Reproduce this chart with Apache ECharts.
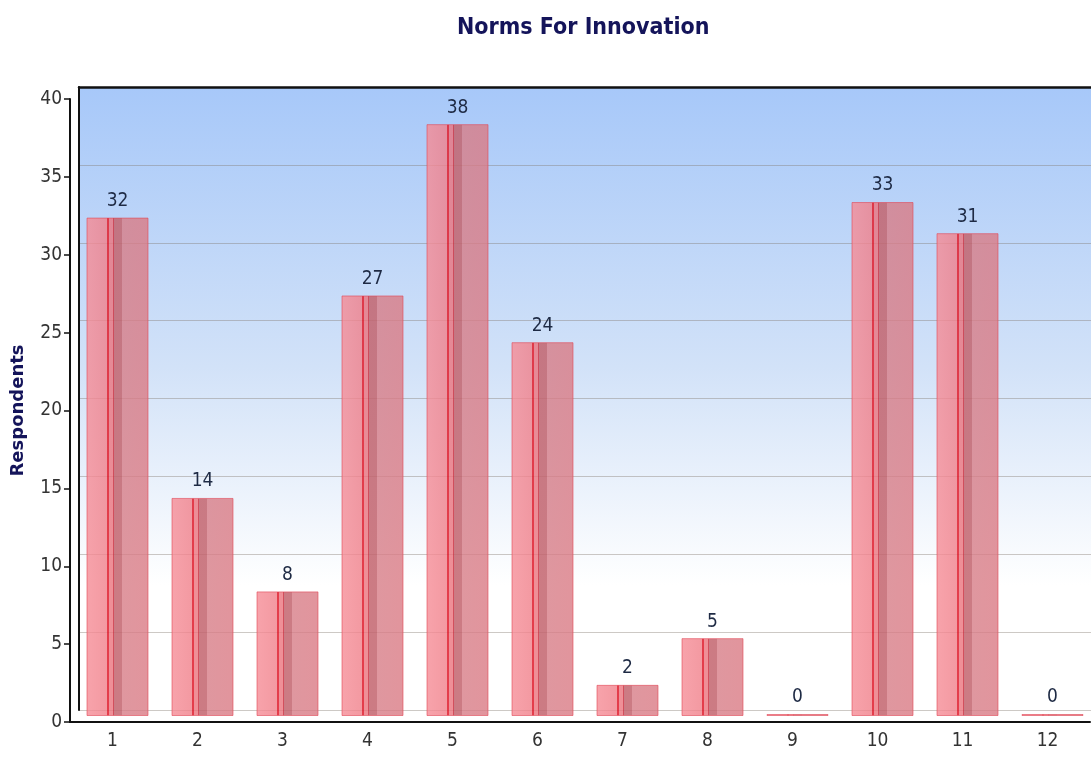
<!DOCTYPE html>
<html>
<head>
<meta charset="utf-8">
<script src="https://cdn.jsdelivr.net/npm/echarts@6/dist/echarts.min.js"></script>
<style>
  html, body { margin: 0; padding: 0; background: #fff; }
  #chart { width: 1091px; height: 758px; }
</style>
</head>
<body>
<div id="chart"></div>
<script>
// chart data
const categories = ['1', '2', '3', '4', '5', '6', '7', '8', '9', '10', '11', '12'];
const respondents = [32, 14, 8, 27, 38, 24, 2, 5, 0, 33, 31, 0];
const yTicks = { min: 0, max: 40, interval: 5 };

const font = "'DejaVu Sans Condensed', 'Liberation Sans Narrow', sans-serif";
const myChart = echarts.init(document.getElementById('chart'));

// bar fill: light left face, red edge, darker middle stripe, shaded right part
const barFill = {
  type: 'linear', x: 0, y: 0, x2: 1, y2: 0,
  colorStops: [
    { offset: 0, color: 'rgba(246,140,150,0.8)' },
    { offset: 0.33, color: 'rgba(240,128,138,0.8)' },
    { offset: 0.33, color: 'rgba(225,40,55,0.9)' },
    { offset: 0.36, color: 'rgba(225,40,55,0.9)' },
    { offset: 0.36, color: 'rgba(235,115,125,0.8)' },
    { offset: 0.42, color: 'rgba(235,115,125,0.8)' },
    { offset: 0.42, color: 'rgba(205,60,75,0.9)' },
    { offset: 0.44, color: 'rgba(205,60,75,0.9)' },
    { offset: 0.44, color: 'rgba(195,100,110,0.85)' },
    { offset: 0.58, color: 'rgba(195,100,110,0.85)' },
    { offset: 0.58, color: 'rgba(215,125,135,0.8)' },
    { offset: 1, color: 'rgba(218,122,132,0.8)' }
  ]
};

const hiddenCat = (grid) => ({
  type: 'category', gridIndex: grid, data: categories, show: false
});
const hiddenVal = (grid) => ({
  type: 'value', gridIndex: grid, min: yTicks.min, max: yTicks.max, interval: yTicks.interval, show: false,
  splitLine: { show: false }
});

const option = {
  backgroundColor: '#fff',
  animation: false,
  title: {
    text: 'Norms For Innovation',
    left: 452,
    top: 12,
    textStyle: { fontFamily: font, fontSize: 23, fontWeight: 'bold', color: '#14145a' }
  },
  grid: [
    // front plane: axes, ticks and labels
    { left: 70, right: 1, top: 99, bottom: 36, outerBoundsMode: 'none' },
    // back wall with the gradient and grid lines
    {
      left: 79, right: -8, top: 87, bottom: 48, show: true, borderWidth: 0, outerBoundsMode: 'none',
      backgroundColor: {
        type: 'linear', x: 0, y: 0, x2: 0, y2: 1,
        colorStops: [
          { offset: 0, color: '#a7c8f9' },
          { offset: 0.45, color: '#d2e2f8' },
          { offset: 0.8, color: '#ffffff' },
          { offset: 1, color: '#ffffff' }
        ]
      }
    },
    // middle plane for the bars
    { left: 75, right: -4, top: 93, bottom: 42, outerBoundsMode: 'none' }
  ],
  xAxis: [
    {
      type: 'category', gridIndex: 0, data: categories, z: 10,
      axisLine: { lineStyle: { color: '#111', width: 2 } },
      axisTick: { alignWithLabel: true, length: 7, lineStyle: { color: '#111', width: 2 } },
      axisLabel: { fontFamily: font, fontSize: 19, color: '#333', margin: 10 }
    },
    {
      type: 'category', gridIndex: 1, data: categories, position: 'top',
      axisLine: { onZero: false, lineStyle: { color: '#111', width: 2.5 } },
      axisTick: { show: false }, axisLabel: { show: false }
    },
    hiddenCat(2)
  ],
  yAxis: [
    {
      type: 'value', gridIndex: 0, min: yTicks.min, max: yTicks.max, interval: yTicks.interval, z: 10,
      name: 'Respondents', nameLocation: 'middle', nameGap: 43,
      nameTextStyle: { fontFamily: 'DejaVu Sans', fontSize: 18, fontWeight: 'bold', color: '#14145a' },
      axisLine: { show: true, lineStyle: { color: '#111', width: 2 } },
      axisTick: { show: true, length: 6, lineStyle: { color: '#111', width: 1.5 } },
      axisLabel: { fontFamily: font, fontSize: 19, color: '#333', margin: 8 },
      splitLine: { show: false }
    },
    {
      type: 'value', gridIndex: 1, min: yTicks.min, max: yTicks.max, interval: yTicks.interval,
      axisLine: { show: true, onZero: false, lineStyle: { color: '#111', width: 2 } },
      axisTick: { show: false }, axisLabel: { show: false },
      splitLine: { show: true, lineStyle: { color: 'rgba(130,120,110,0.4)', width: 1.2 } }
    },
    hiddenVal(2)
  ],
  series: [
    {
      type: 'bar', xAxisIndex: 2, yAxisIndex: 2,
      data: respondents,
      barWidth: 62,
      barMinHeight: 2,
      itemStyle: { color: barFill, borderColor: 'rgba(225,70,85,0.6)', borderWidth: 1 },
      label: {
        show: true, position: 'top', distance: 7,
        fontFamily: font, fontSize: 19, color: '#1e2a44'
      }
    }
  ]
};

myChart.setOption(option);
</script>
</body>
</html>
